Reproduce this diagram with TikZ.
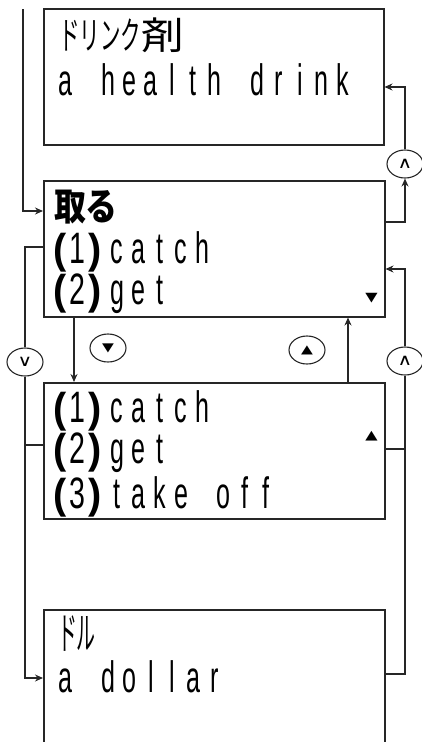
\documentclass[tikz,border=0pt]{standalone}
\usepackage{fontspec}
\usetikzlibrary{arrows.meta,shapes.geometric}
\setmainfont{Liberation Sans}
\newfontfamily\latf{Liberation Sans}
\newfontfamily\jpf{Noto Sans CJK JP}
\newfontfamily\symf{DejaVu Sans}
\newlength\cellw \setlength\cellw{21.3pt}
\newlength\pcellw \setlength\pcellw{17.5pt}
\makeatletter
\newcommand\lcdstr[1]{\@tfor\lcd@c:=#1\do{\makebox[\cellw][c]{\scalebox{0.57}[1]{\lcd@c}}}}
\makeatother
\newcommand\lcdnum[1]{\makebox[\pcellw][c]{\scalebox{0.9}[0.95]{\bfseries(}}\makebox[\pcellw][c]{\scalebox{0.65}[1]{#1}}\makebox[\pcellw][c]{\scalebox{0.9}[0.95]{\bfseries)}}\hspace{2.5pt}}
\begin{document}
\begin{tikzpicture}[x=1pt,y=-1pt,
  box/.style={draw=black!85, line width=1.5pt, rectangle, inner sep=0pt, anchor=north west},
  conn/.style={draw=black!85, line width=1.2pt},
  arr/.style={conn, -{Stealth[length=8pt,width=7pt]}},
  oval/.style={ellipse, draw=black!85, line width=1.1pt, minimum width=36pt, minimum height=28pt, inner sep=0pt, font=\symf\fontsize{20}{20}\selectfont},
  lcd/.style={anchor=base west, inner sep=0pt, outer sep=0pt, font=\latf\fontsize{44}{44}\selectfont},
  jpt/.style={anchor=base west, inner sep=0pt, outer sep=0pt, font=\jpf\fontsize{38}{38}\selectfont},
  tri/.style={inner sep=0pt, font=\symf\fontsize{16}{16}\selectfont}]
\useasboundingbox (0,0) rectangle (421,742);
% boxes
\node[box, minimum width=340pt, minimum height=136pt] (b1) at (43,8) {};
\node[box, minimum width=341pt, minimum height=136pt] (b2) at (43,180) {};
\node[box, minimum width=341pt, minimum height=136pt] (b3) at (43,382) {};
\node[box, minimum width=341pt, minimum height=150pt] (b4) at (43,609) {};
% texts
\node[jpt] (t1a) at (59,49) {\scalebox{0.54}[1]{ドリンク}\scalebox{1.12}[1]{剤}};
\node[lcd] (t1b) at (55,95) {\lcdstr{a~health~drink}};
\node[jpt, font=\jpf\bfseries\fontsize{38}{38}\selectfont] (t2a) at (54,220) {\scalebox{0.84}[1]{取る}};
\node[lcd] (t2b) at (51.5,263) {\lcdnum{1}\lcdstr{catch}};
\node[lcd] (t2c) at (51.5,304) {\lcdnum{2}\lcdstr{get}};
\node[lcd] (t3a) at (51.5,422) {\lcdnum{1}\lcdstr{catch}};
\node[lcd] (t3b) at (51.5,463) {\lcdnum{2}\lcdstr{get}};
\node[lcd] (t3c) at (51.5,508) {\lcdnum{3}\lcdstr{take~off}};
\node[jpt, font=\jpf\fontsize{44}{44}\selectfont] (t4a) at (58,649) {\scalebox{0.43}[1]{ドル}};
\node[lcd] (t4b) at (55,692) {\lcdstr{a~dollar}};
\node[tri] (m2) at (371.5,298) {\scalebox{1}[0.8]{▼}};
\node[tri] (m3) at (371.5,436) {\scalebox{1}[0.8]{▲}};
% key circles
\node[oval] (cA) at (405,164) {\scalebox{1}[0.8]{∧}};
\node[oval] (cV) at (25,362) {\scalebox{1}[0.8]{∨}};
\node[oval] (cB) at (405,361) {\scalebox{1}[0.8]{∧}};
\node[oval, font=\symf\fontsize{14}{14}\selectfont] (cD) at (108,348) {\scalebox{1.1}[0.85]{▼}};
\node[oval, font=\symf\fontsize{14}{14}\selectfont] (cU) at (307,350) {\scalebox{1.1}[0.85]{▲}};
% connectors
\coordinate (topin) at (23,9);
\draw[arr] (topin) |- (b2.west |- 0,211);
\draw[arr] (b2.east |- 0,222) -| (cA.south);
\draw[arr] (cA.north) |- (b1.east |- 0,87);
\draw[conn] (b2.west |- 0,247) -| (cV.north);
\draw[arr] (cV.south) |- (b4.west |- 0,678);
\draw[conn] (b3.west |- 0,445) -- (cV |- 0,445);
\draw[arr] (b2.south -| 74,0) -- (b3.north -| 74,0);
\draw[arr] (b3.north -| 348,0) -- (b2.south -| 348,0);
\draw[conn] (b4.east |- 0,674) -| (cB.south);
\draw[arr] (cB.north) |- (b2.east |- 0,269);
\draw[conn] (b3.east |- 0,449) -- (cB |- 0,449);
\end{tikzpicture}
\end{document}
